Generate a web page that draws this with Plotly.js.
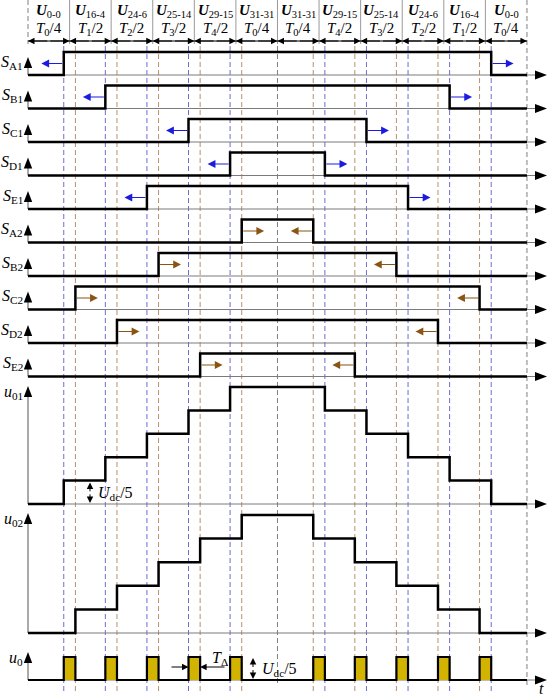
<!DOCTYPE html>
<html>
<head>
<meta charset="utf-8">
<script src="https://cdn.plot.ly/plotly-3.0.1.min.js"></script>
<style>html,body{margin:0;padding:0;background:#fff}</style>
</head>
<body>
<div id="chart" style="width:550px;height:698px"></div>
<script>
// sections across the top
var vectorLabels = ['0-0','16-4','24-6','25-14','29-15','31-31','31-31','29-15','25-14','24-6','16-4','0-0'];
var timeIndex    = ['0','1','2','3','4','0','0','4','3','2','1','0'];
var timeDivisor  = ['4','2','2','2','2','4','4','2','2','2','2','4'];

// switching signals (time in section units, 0..12)
var switchNames = ['A1','B1','C1','D1','E1','A2','B2','C2','D2','E2'];
var switchOn    = [0.86, 1.86, 3.86, 4.86, 2.86, 5.14, 3.14, 1.14, 2.14, 4.14];
var switchOff   = [11.14, 10.14, 8.14, 7.14, 9.14, 6.86, 8.86, 10.86, 9.86, 7.86];

// staircase outputs
var u01Times  = [0, 0.86, 1.86, 2.86, 3.86, 4.86, 7.14, 8.14, 9.14, 10.14, 11.14, 12];
var u01Levels = [0, 1, 2, 3, 4, 5, 4, 3, 2, 1, 0, 0];
var u02Times  = [0, 1.14, 2.14, 3.14, 4.14, 5.14, 6.86, 7.86, 8.86, 9.86, 10.86, 12];
var u02Levels = [0, 1, 2, 3, 4, 5, 4, 3, 2, 1, 0, 0];

// u0 pulses
var pulseStart = [0.86, 1.86, 2.86, 3.86, 4.86, 6.86, 7.86, 8.86, 9.86, 10.86];
var pulseEnd   = [1.14, 2.14, 3.14, 4.14, 5.14, 7.14, 8.14, 9.14, 10.14, 11.14];

// guide lines
var blueLines  = [0.86, 1.86, 2.86, 3.86, 4.86, 7.14, 8.14, 9.14, 10.14, 11.14];
var brownLines = [1.14, 2.14, 3.14, 4.14, 5.14, 6.86, 7.86, 8.86, 9.86, 10.86];

// ---- geometry (pixels) ----
var S = 41.58, X0 = 28;
function tx(p) { return (p - X0) / S; }
var rowTop = 75, rowGap = 33.5, amp = 23;
var u01Base = 504, u01Step = 23.4;
var u02Base = 633, u02Step = 23.6;
var u0Base = 680, u0Amp = 23;
var serif = 'Liberation Serif, Times New Roman, serif';

var traces = [];
var shapes = [];
var ann = [];

function vlines(ts, y0, y1) {
    var x = [], y = [];
    ts.forEach(function (t) { x.push(t, t, null); y.push(y0, y1, null); });
    return {x: x, y: y};
}
function addLine(d, color, width, dash) {
    traces.push({x: d.x, y: d.y, type: 'scatter', mode: 'lines', hoverinfo: 'skip',
        line: {color: color, width: width, dash: dash || 'solid'}});
}

// dashed guides
addLine(vlines(blueLines, 46, 692), '#6c6cd6', 1, '5px,3px');
addLine(vlines(brownLines, 46, 692), '#b8906e', 1, '5px,3px');
addLine(vlines([6], 46, 686), '#808080', 1, '5px,3px');
addLine(vlines([12], 0, 686), '#808080', 1, '5px,3px');
addLine(vlines([0], 0, 44), '#808080', 1, '5px,3px');
// header separators
addLine(vlines([1,2,3,4,5,6,7,8,9,10,11], 0, 44), '#9a9a9a', 1);
// header arrow line
addLine({x: [0, 12], y: [41, 41]}, '#000', 1);

// rows
var bases = switchNames.map(function (_, i) { return rowTop + i * rowGap; });
var allBases = bases.concat([u01Base, u02Base, u0Base]);
var axisTops = bases.map(function (b) { return b - 18; }).concat([386, 513, 652]);

allBases.forEach(function (b, i) {
    addLine({x: [0, tx(537)], y: [b, b]}, '#7a7a7a', 1);
    addLine({x: [0, 0], y: [b, axisTops[i] + 8]}, '#555', 1);
    var t = axisTops[i];
    shapes.push({type: 'path', xref: 'x', yref: 'y', fillcolor: '#000', line: {width: 0},
        path: 'M' + tx(X0 - 4.2) + ',' + (t + 11) + ' L' + tx(X0) + ',' + t + ' L' + tx(X0 + 4.2) + ',' + (t + 11) + ' Z'});
    shapes.push({type: 'path', xref: 'x', yref: 'y', fillcolor: '#000', line: {width: 0},
        path: 'M' + tx(535) + ',' + (b - 4.5) + ' L' + tx(547) + ',' + b + ' L' + tx(535) + ',' + (b + 4.5) + ' Z'});
});

// switching signals
switchNames.forEach(function (name, i) {
    var b = bases[i];
    traces.push({x: [0, switchOn[i], switchOff[i], 12],
        y: [b, b - amp, b, b], type: 'scatter', mode: 'lines', hoverinfo: 'skip',
        line: {color: '#000', width: 2.5, shape: 'hv'}});
    ann.push({x: tx(25), y: b - 13, xref: 'x', yref: 'y', xanchor: 'right', yanchor: 'middle',
        text: '<i>S</i><sub>' + name + '</sub>', showarrow: false, font: {family: serif, size: 16, color: '#000'}});
    var upper = i < 5;
    var col = upper ? '#1c1ce0' : '#8a5512';
    var ya = b - amp / 2;
    var dOn = upper ? -0.54 : 0.54;
    [[switchOn[i], dOn], [switchOff[i], -dOn]].forEach(function (p) {
        ann.push({x: p[0] + p[1], y: ya, ax: p[0], ay: ya, xref: 'x', yref: 'y', axref: 'x', ayref: 'y',
            text: '', showarrow: true, arrowhead: 2, arrowsize: 1.3, arrowwidth: 1.2, arrowcolor: col,
            standoff: 0, startstandoff: 0});
    });
});

// staircases
traces.push({x: u01Times, y: u01Levels.map(function (v) { return u01Base - v * u01Step; }),
    type: 'scatter', mode: 'lines', hoverinfo: 'skip', line: {color: '#000', width: 2.5, shape: 'hv'}});
traces.push({x: u02Times, y: u02Levels.map(function (v) { return u02Base - v * u02Step; }),
    type: 'scatter', mode: 'lines', hoverinfo: 'skip', line: {color: '#000', width: 2.5, shape: 'hv'}});

// u0 pulses
pulseStart.forEach(function (s, i) {
    traces.push({x: [s, s, pulseEnd[i], pulseEnd[i]], y: [u0Base, u0Base - u0Amp, u0Base - u0Amp, u0Base],
        type: 'scatter', mode: 'lines', fill: 'toself', fillcolor: '#d2b400', hoverinfo: 'skip',
        line: {width: 0, color: 'rgba(0,0,0,0)'}});
});
var u0x = [0], u0y = [u0Base];
pulseStart.forEach(function (s, i) {
    u0x.push(s, s, pulseEnd[i], pulseEnd[i]);
    u0y.push(u0Base, u0Base - u0Amp, u0Base - u0Amp, u0Base);
});
u0x.push(12); u0y.push(u0Base);
traces.push({x: u0x, y: u0y, type: 'scatter', mode: 'lines', hoverinfo: 'skip',
    line: {color: '#000', width: 2.2}});

// header labels and arrows
vectorLabels.forEach(function (v, k) {
    ann.push({x: k + 0.5, y: 11, xref: 'x', yref: 'y', showarrow: false, yanchor: 'middle',
        text: '<b><i>U</i></b><sub>' + v + '</sub>', font: {family: serif, size: 15, color: '#000'}});
    ann.push({x: k + 0.5, y: 29, xref: 'x', yref: 'y', showarrow: false, yanchor: 'middle',
        text: '<i>T</i><sub>' + timeIndex[k] + '</sub>/' + timeDivisor[k], font: {family: serif, size: 15, color: '#000'}});
    [k, k + 1].forEach(function (h) {
        ann.push({x: h, y: 41, ax: k + 0.5, ay: 41, xref: 'x', yref: 'y', axref: 'x', ayref: 'y',
            text: '', showarrow: true, arrowhead: 2, arrowsize: 1.3, arrowwidth: 1, arrowcolor: '#000',
            standoff: 0, startstandoff: 0});
    });
});

// output labels
[['<i>u</i><sub>01</sub>', 392], ['<i>u</i><sub>02</sub>', 519], ['<i>u</i><sub>0</sub>', 658]].forEach(function (l) {
    ann.push({x: tx(25), y: l[1], xref: 'x', yref: 'y', xanchor: 'right', yanchor: 'middle',
        text: l[0], showarrow: false, font: {family: serif, size: 16, color: '#000'}});
});

// Udc/5 markers
function vDouble(xp, y0, y1) {
    var m = (y0 + y1) / 2;
    [y0, y1].forEach(function (h) {
        ann.push({x: tx(xp), y: h, ax: tx(xp), ay: m, xref: 'x', yref: 'y', axref: 'x', ayref: 'y',
            text: '', showarrow: true, arrowhead: 2, arrowsize: 1.3, arrowwidth: 1, arrowcolor: '#000',
            standoff: 0, startstandoff: 0});
    });
}
vDouble(90, u01Base - u01Step + 2, u01Base - 1);
ann.push({x: tx(96), y: 493, xref: 'x', yref: 'y', xanchor: 'left', showarrow: false,
    text: '<i>U</i><sub>dc</sub>/5', font: {family: serif, size: 16, color: '#000'}});
vDouble(253, u0Base - u0Amp + 1, u0Base - 1);
ann.push({x: tx(260), y: 669, xref: 'x', yref: 'y', xanchor: 'left', showarrow: false,
    text: '<i>U</i><sub>dc</sub>/5', font: {family: serif, size: 16, color: '#000'}});

// T delta
ann.push({x: 3.86, y: 667, ax: tx(170), ay: 667, xref: 'x', yref: 'y', axref: 'x', ayref: 'y',
    text: '', showarrow: true, arrowhead: 2, arrowsize: 1.3, arrowwidth: 1, arrowcolor: '#000', standoff: 0});
ann.push({x: 4.14, y: 667, ax: tx(226), ay: 667, xref: 'x', yref: 'y', axref: 'x', ayref: 'y',
    text: '', showarrow: true, arrowhead: 2, arrowsize: 1.3, arrowwidth: 1, arrowcolor: '#000', standoff: 0});
ann.push({x: tx(210), y: 658, xref: 'x', yref: 'y', xanchor: 'left', showarrow: false,
    text: '<i>T</i><sub>Δ</sub>', font: {family: serif, size: 16, color: '#000'}});

// time axis label
ann.push({x: tx(541), y: 688, xref: 'x', yref: 'y', showarrow: false,
    text: '<i>t</i>', font: {family: serif, size: 16, color: '#000'}});

var layout = {
    width: 550, height: 698,
    margin: {l: 0, r: 0, t: 0, b: 0},
    paper_bgcolor: '#fff', plot_bgcolor: '#fff',
    showlegend: false,
    xaxis: {range: [tx(0), tx(550)], visible: false, fixedrange: true},
    yaxis: {range: [698, 0], visible: false, fixedrange: true},
    shapes: shapes,
    annotations: ann
};

Plotly.newPlot('chart', traces, layout, {displayModeBar: false, staticPlot: true});
</script>
</body>
</html>
